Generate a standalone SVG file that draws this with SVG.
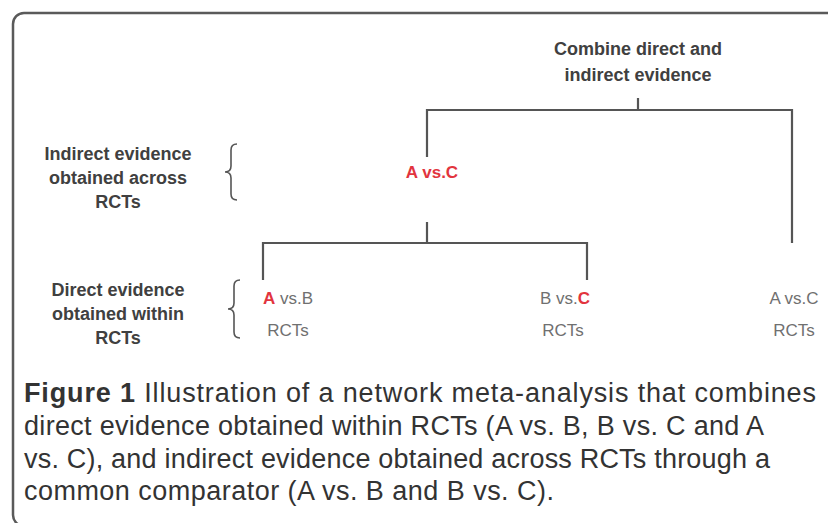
<svg xmlns="http://www.w3.org/2000/svg" width="828" height="523" viewBox="0 0 828 523">
  <style>
    .frame { fill: #ffffff; stroke: #5a5a5a; stroke-width: 2.5; }
    .conn { fill: none; stroke: #555555; stroke-width: 2.2; }
    .brace { fill: none; stroke: #555555; stroke-width: 1.6; }
    .lbl { font-family: "Liberation Sans", Arial, sans-serif; font-size: 18px; font-weight: bold; fill: #404040; text-anchor: middle; }
    .sm { font-family: "Liberation Sans", Arial, sans-serif; font-size: 17px; fill: #707070; }
    .red { fill: #e2343e; font-weight: bold; }
    .cap { font-family: "Liberation Sans", Arial, sans-serif; font-size: 27px; fill: #333333; }
  </style>
  <rect class="frame" x="13" y="13" width="840" height="513" rx="11" ry="11"/>

  <g id="connectors">
    <path class="conn" d="M638 98 V110"/>
    <path class="conn" d="M427 157 V110 H792 V243"/>
    <path class="conn" d="M427 222 V243"/>
    <path class="conn" d="M263 280 V243 H587 V280"/>
  </g>

  <g id="node-combine">
    <text class="lbl" x="638" y="55">Combine direct and</text>
    <text class="lbl" x="638" y="81">indirect evidence</text>
  </g>

  <g id="node-indirect-label">
    <text class="lbl" x="118" y="160">Indirect evidence</text>
    <text class="lbl" x="118" y="184">obtained across</text>
    <text class="lbl" x="118" y="208">RCTs</text>
    <path class="brace" d="M237 144 Q231 144 231 150 V166 Q231 172 225 172 Q231 172 231 178 V194 Q231 200 237 200"/>
  </g>

  <g id="node-direct-label">
    <text class="lbl" x="118" y="296">Direct evidence</text>
    <text class="lbl" x="118" y="320">obtained within</text>
    <text class="lbl" x="118" y="344">RCTs</text>
    <path class="brace" d="M240 280 Q234 280 234 286 V303 Q234 309 228 309 Q234 309 234 315 V332 Q234 338 240 338"/>
  </g>

  <g id="node-avc-indirect">
    <text class="sm red" x="432" y="178" text-anchor="middle">A vs.C</text>
  </g>

  <g id="node-avb">
    <text class="sm" x="263" y="304"><tspan class="red">A</tspan> vs.B</text>
    <text class="sm" x="288" y="336" text-anchor="middle">RCTs</text>
  </g>

  <g id="node-bvc">
    <text class="sm" x="590" y="304" text-anchor="end">B vs.<tspan class="red">C</tspan></text>
    <text class="sm" x="563" y="336" text-anchor="middle">RCTs</text>
  </g>

  <g id="node-avc-direct">
    <text class="sm" x="794" y="304" text-anchor="middle">A vs.C</text>
    <text class="sm" x="794" y="336" text-anchor="middle">RCTs</text>
  </g>

  <g id="caption">
    <text class="cap" x="24" y="402" textLength="792"><tspan font-weight="bold">Figure 1</tspan> Illustration of a network meta-analysis that combines</text>
    <text class="cap" x="24" y="435" textLength="740">direct evidence obtained within RCTs (A vs. B, B vs. C and A</text>
    <text class="cap" x="24" y="468" textLength="746">vs. C), and indirect evidence obtained across RCTs through a</text>
    <text class="cap" x="24" y="500" textLength="530">common comparator (A vs. B and B vs. C).</text>
  </g>
</svg>
